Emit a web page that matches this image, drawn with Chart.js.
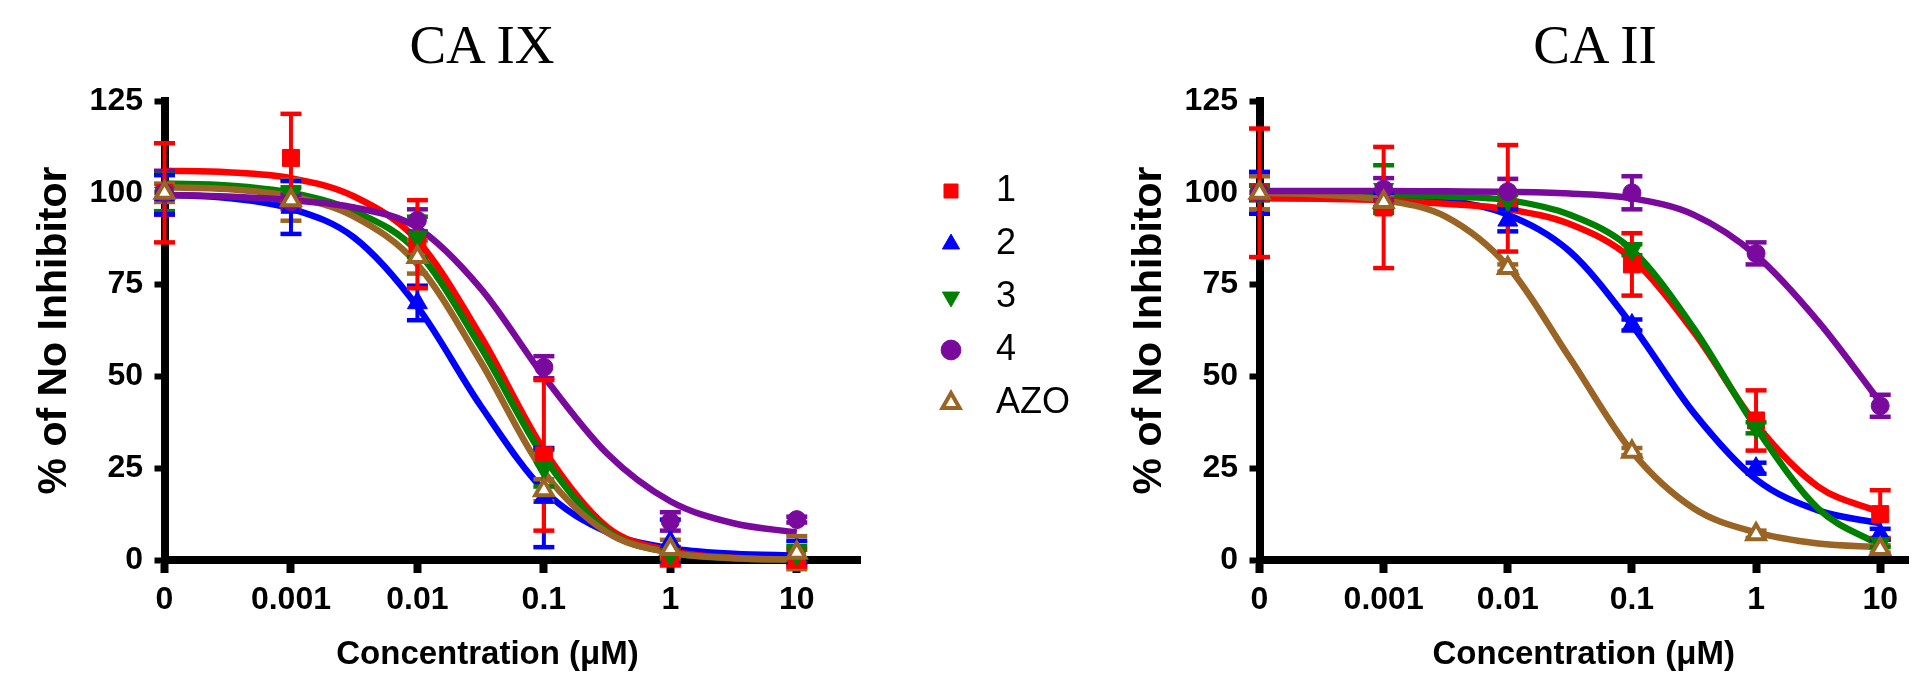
<!DOCTYPE html>
<html><head><meta charset="utf-8">
<script src="https://cdn.jsdelivr.net/npm/chart.js@4.4.1/dist/chart.umd.min.js"></script>
<style>
html,body{margin:0;padding:0;background:#fff;width:1923px;height:675px;overflow:hidden;position:relative;}
canvas{position:absolute;}
.ttl{position:absolute;font-family:'Liberation Serif','Times New Roman',serif;font-size:55px;line-height:1;color:#000;white-space:nowrap;transform:translateX(-50%);top:17px;}
</style></head><body>
<div class="ttl" style="left:482px;">CA IX</div>
<div class="ttl" style="left:1595px;">CA II</div>
<canvas id="cIX" width="880" height="675" style="left:0;top:0;"></canvas>
<canvas id="cII" width="828" height="675" style="left:1095px;top:0;"></canvas>
<canvas id="cLeg" width="340" height="300" style="left:916px;top:156px;"></canvas>
<script>
// ---------- categories / ticks ----------
const doseLabels = ['0', '0.001', '0.01', '0.1', '1', '10'];   // µM
const dosePos = [0, 1, 2, 3, 4, 5];
const yTickValues = [0, 25, 50, 75, 100, 125];
const seriesNames = ['1', '2', '3', '4', 'AZO'];
const fitPos = [0, 0.5, 1, 1.5, 2, 2.5, 3, 3.5, 4, 4.5, 5];
const xTitle = 'Concentration (μM)';
const yTitle = '% of No Inhibitor';

// ---------- CA IX : measured points (mean, error) ----------
const caix_1_mean = [100, 109.5, 86, 28.5, 1, 0.5];
const caix_1_err  = [13.5, 12, 12, 20.5, 2.5, 2.3];
const caix_2_mean = [99.5, 96, 70, 17, 5, 2];
const caix_2_err  = [5.3, 7.2, 4.7, 13.5, 6, 3.2];
const caix_3_mean = [100, 99.5, 88, 25, 1.5, 1.5];
const caix_3_err  = [5, 2, 5.5, 5, 2, 2.3];
const caix_4_mean = [100, 97.5, 92.5, 52.5, 10.5, 11];
const caix_4_err  = [6, 2, 3, 3, 2.5, 0.8];
const caix_azo_mean = [100, 98, 82.5, 19, 3, 2];
const caix_azo_err  = [2.5, 5.6, 4.5, 3, 2.5, 4.5];

// ---------- CA IX : fitted curves read at fitPos ----------
const caix_1_fit   = [106, 105.6, 104, 99, 87, 61, 30, 9, 2.5, 0.6, 0.1];
const caix_2_fit   = [99.5, 98.6, 95.7, 87.8, 69, 42, 19, 7.6, 3.2, 1.7, 1.2];
const caix_3_fit   = [102.5, 102, 100, 95, 84, 58, 28, 8, 2, 0.5, 0.1];
const caix_4_fit   = [99.5, 99, 98, 96, 90.5, 74, 50, 29, 16, 10, 7.5];
const caix_azo_fit = [101.5, 101, 99, 93.5, 80.5, 54, 24, 7.5, 2, 0.5, 0.1];

// ---------- CA II : measured points ----------
const caii_1_mean = [100, 96, 98.5, 80.5, 38, 12.5];
const caii_1_err  = [17.5, 16.5, 14.5, 8.5, 8.2, 6.5];
const caii_2_mean = [100, 98, 92.5, 64, 25, 7];
const caii_2_err  = [5.7, 2, 3, 1.5, 1.5, 1.5];
const caii_3_mean = [100, 101, 98, 84.5, 36, 4.5];
const caii_3_err  = [2, 6.5, 1.5, 1.5, 1.5, 1];
const caii_4_mean = [100, 101, 100.3, 100, 83.5, 42];
const caii_4_err  = [2, 3, 3.5, 4.5, 3, 3];
const caii_azo_mean = [100, 97.5, 79.5, 29.5, 7, 3];
const caii_azo_err  = [4.5, 2, 1, 1, 1, 1];

// ---------- CA II : fitted curves ----------
const caii_1_fit   = [98.5, 98.4, 98, 97, 95.5, 91.5, 82, 62, 37, 20, 13];
const caii_2_fit   = [100, 99.6, 99, 98, 94, 84, 64, 40, 22, 13.5, 10];
const caii_3_fit   = [100, 99.8, 99.5, 99, 98, 94, 84.5, 63, 36, 14, 4];
const caii_4_fit   = [100.5, 100.5, 100.5, 100.4, 100.3, 99.8, 98.5, 94, 83, 65, 43];
const caii_azo_fit = [100, 99.5, 98, 93.5, 80, 55, 29.5, 14, 7.5, 4.5, 3.5];

// ---------- styles ----------
const seriesStyle = [
  {color: '#ff0000', shape: 'rect',     rot: 0,   r: 12,   filled: true,  lineOrder: 34, markOrder: 14},
  {color: '#0000ff', shape: 'triangle', rot: 0,   r: 11.5, filled: true,  lineOrder: 35, markOrder: 13},
  {color: '#008000', shape: 'triangle', rot: 180, r: 11.5, filled: true,  lineOrder: 33, markOrder: 12},
  {color: '#7a0a9e', shape: 'circle',   rot: 0,   r: 9,    filled: true,  lineOrder: 31, markOrder: 11},
  {color: '#9a6424', shape: 'triangle', rot: 0,   r: 10,   filled: false, lineOrder: 32, markOrder: 10}
];

Chart.defaults.font.family = "'Liberation Sans', Arial, sans-serif";
Chart.defaults.color = '#000';

function buildDatasets(means, errs, fits) {
  const ds = [];
  seriesStyle.forEach((st, k) => {
    ds.push({
      label: 'fit ' + seriesNames[k],
      data: fitPos.map((x, i) => ({x: x, y: fits[k][i]})),
      borderColor: st.color, borderWidth: 6.5, pointRadius: 0,
      cubicInterpolationMode: 'monotone', fill: false, clip: false, order: st.lineOrder
    });
    const eb = [];
    dosePos.forEach((x, i) => {
      eb.push({x: x, y: means[k][i] - errs[k][i]});
      eb.push({x: x, y: means[k][i] + errs[k][i]});
      eb.push({x: x, y: null});
    });
    ds.push({
      label: 'err ' + seriesNames[k], data: eb,
      borderColor: st.color, borderWidth: 4, spanGaps: false,
      pointStyle: 'line', pointRadius: 10.5, pointBorderWidth: 4.5,
      pointBorderColor: st.color, pointBackgroundColor: st.color,
      clip: false, order: 20
    });
    ds.push({
      label: seriesNames[k],
      data: dosePos.map((x, i) => ({x: x, y: means[k][i]})),
      showLine: false, pointStyle: st.shape, pointRotation: st.rot,
      pointRadius: st.r, pointBackgroundColor: st.filled ? st.color : '#ffffff',
      pointBorderColor: st.color, pointBorderWidth: st.filled ? 1 : 4,
      clip: false, order: st.markOrder
    });
  });
  return ds;
}

function makePanel(id, means, errs, fits, xMax, padRight, xTitleText) {
  return new Chart(document.getElementById(id), {
    type: 'line',
    data: {datasets: buildDatasets(means, errs, fits)},
    options: {
      responsive: false, animation: false, devicePixelRatio: 1, events: [],
      layout: {padding: {top: 101, right: padRight, bottom: 0, left: 0}},
      plugins: {legend: {display: false}, tooltip: {enabled: false}, title: {display: false}},
      scales: {
        x: {
          type: 'linear', min: 0, max: xMax, z: 1,
          afterBuildTicks: s => { s.ticks = dosePos.map(v => ({value: v})); },
          afterFit: s => { s.height = 115; },
          ticks: {callback: v => doseLabels[Math.round(v)], font: {size: 32, weight: 'bold'},
                  color: '#000', padding: 8, maxRotation: 0, autoSkip: false},
          grid: {display: true, drawOnChartArea: false, drawTicks: true, tickLength: 13,
                 tickWidth: 8, tickColor: '#000', color: '#000'},
          border: {display: true, width: 8, color: '#000'},
          title: {display: true, text: xTitleText, font: {size: 33, weight: 'bold'},
                  color: '#000', padding: {top: 0, bottom: 0}}
        },
        y: {
          type: 'linear', min: 0, max: 125, z: 1,
          afterBuildTicks: s => { s.ticks = yTickValues.map(v => ({value: v})); },
          afterFit: s => { s.width = 164.5; },
          ticks: {font: {size: 32, weight: 'bold'}, color: '#000', padding: 11.5},
          grid: {display: true, drawOnChartArea: false, drawTicks: true, tickLength: 10,
                 tickWidth: 6, tickColor: '#000', color: '#000'},
          border: {display: true, width: 8, color: '#000'},
          title: {display: true, text: yTitle, font: {size: 41, weight: 'bold'},
                  color: '#000', padding: {top: 30, bottom: 0}}
        }
      }
    }
  });
}

// left panel: title centred over the 0..10 tick span (trailing spaces shift the centre)
makePanel('cIX',
  [caix_1_mean, caix_2_mean, caix_3_mean, caix_4_mean, caix_azo_mean],
  [caix_1_err, caix_2_err, caix_3_err, caix_4_err, caix_azo_err],
  [caix_1_fit, caix_2_fit, caix_3_fit, caix_4_fit, caix_azo_fit], 5.5, 20,
  xTitle + '\u2002\u2002\u2002');

makePanel('cII',
  [caii_1_mean, caii_2_mean, caii_3_mean, caii_4_mean, caii_azo_mean],
  [caii_1_err, caii_2_err, caii_3_err, caii_4_err, caii_azo_err],
  [caii_1_fit, caii_2_fit, caii_3_fit, caii_4_fit, caii_azo_fit], 5.224, 0,
  xTitle);

// legend
new Chart(document.getElementById('cLeg'), {
  type: 'line',
  data: {datasets: seriesStyle.map((st, k) => ({
    label: seriesNames[k], data: [], showLine: false,
    pointStyle: st.shape, pointRotation: st.rot,
    pointBackgroundColor: st.filled ? st.color : '#ffffff',
    pointBorderColor: st.color, pointBorderWidth: st.filled ? 1 : 4,
    borderColor: st.color, backgroundColor: st.color
  }))},
  options: {
    responsive: false, animation: false, devicePixelRatio: 1, events: [],
    layout: {padding: 0},
    scales: {x: {display: false}, y: {display: false}},
    plugins: {
      tooltip: {enabled: false},
      legend: {display: true, position: 'left', align: 'start',
        labels: {usePointStyle: true, boxHeight: 14, padding: 17, color: '#000',
                 font: {size: 36, family: "'Liberation Sans', Arial, sans-serif"},
                 generateLabels: chart => Chart.defaults.plugins.legend.labels.generateLabels(chart)
                   .map(item => Object.assign(item, {text: '\u2005' + item.text}))}}
    }
  }
});
</script>
</body></html>
